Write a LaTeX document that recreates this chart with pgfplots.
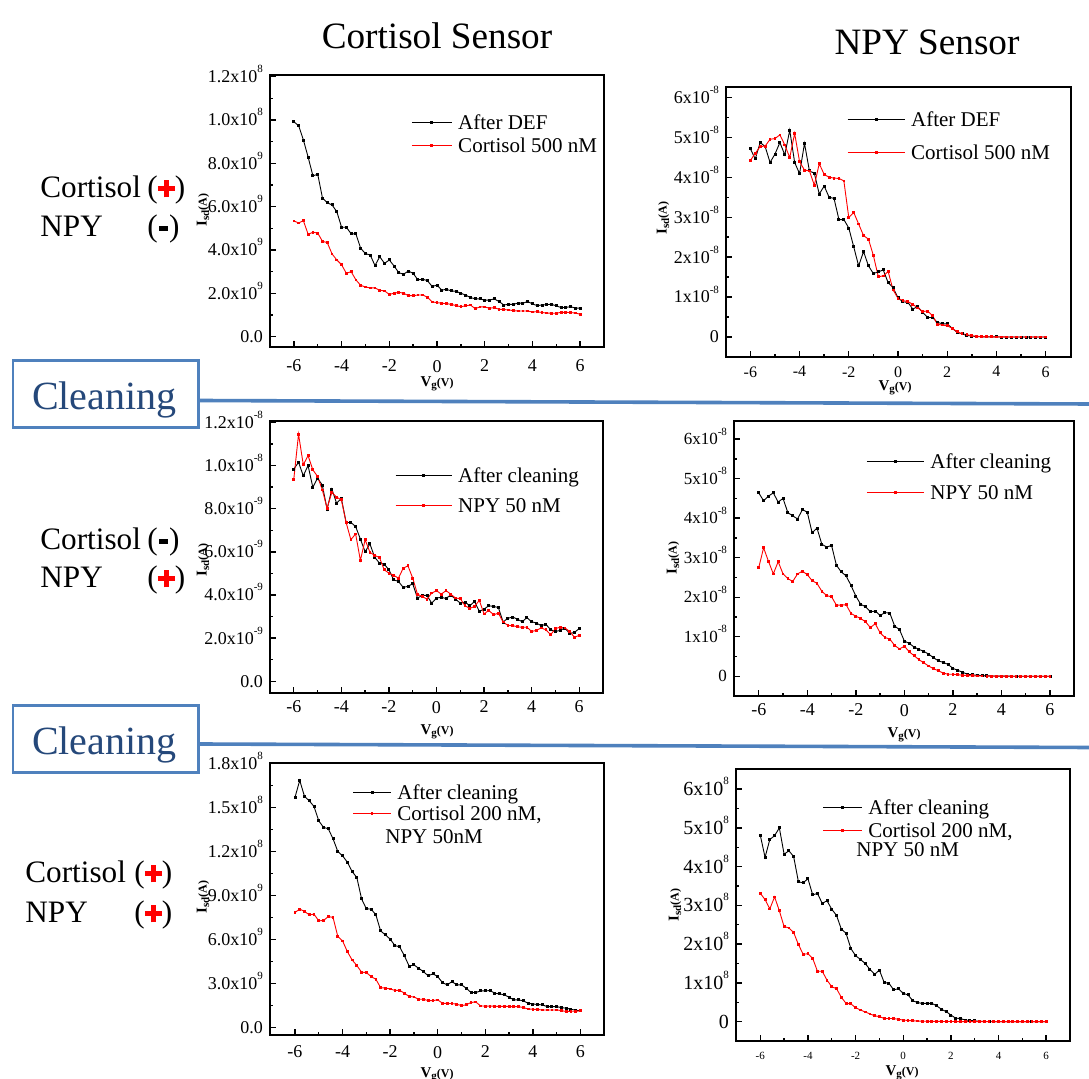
\documentclass[border=0pt]{standalone}
\usepackage{fontspec}
\setmainfont{Liberation Serif}
\usepackage{pgfplots}
\usepackage{pgfplotstable}
\pgfplotsset{compat=1.18}
\definecolor{cleanblue}{RGB}{79,129,189}
\definecolor{cleantext}{RGB}{37,72,122}

\newcommand{\sq}[1]{\smash{\raisebox{0.55em}{\fontsize{5.5}{6}\selectfont #1}}}
\newcommand{\yt}[2]{#1x10\sq{#2}}
\newcommand{\legfont}{\fontsize{10.5}{12}\selectfont}
\newcommand{\redplus}{\textcolor{red}{\rlap{\raisebox{0.22em}{\rule{0.55em}{0.16em}}}\hspace{0.195em}\rule[0.02em]{0.16em}{0.55em}\hspace{0.195em}}}
\newcommand{\blkminus}{\hspace{0.04em}\rule[0.2em]{0.28em}{0.15em}\hspace{0.04em}}
\newcommand{\ylab}{{\fontsize{7.5}{8}\selectfont\bfseries I\raisebox{-0.35ex}{\fontsize{5.5}{6}\selectfont sd}{\fontsize{6}{6}\selectfont(A)}}}
\newcommand{\xlab}{{\fontsize{7.5}{8}\selectfont\bfseries V\raisebox{-0.35ex}{\fontsize{5.5}{6}\selectfont g}{\fontsize{6}{6}\selectfont(V)}}}

\pgfplotstableread{
x b r
-6 9.92 5.34
-5.8 9.74 5.25
-5.6 9.08 5.35
-5.4 8.28 4.72
-5.2 7.42 4.82
-5.0 7.50 4.78
-4.8 6.40 4.40
-4.6 6.18 4.34
-4.4 6.08 3.82
-4.2 5.77 3.54
-4.0 5.05 3.32
-3.8 5.05 2.92
-3.6 4.75 3.00
-3.4 4.74 2.62
-3.2 4.08 2.37
-3.0 3.83 2.29
-2.8 3.77 2.25
-2.6 3.28 2.25
-2.4 3.69 2.14
-2.2 3.38 2.11
-2.0 3.54 1.95
-1.8 3.26 2.00
-1.6 2.95 2.05
-1.4 2.88 2.00
-1.2 3.03 1.89
-1.0 2.92 1.89
-0.8 2.62 1.92
-0.6 2.65 1.92
-0.4 2.58 1.82
-0.2 2.31 1.60
0.0 2.38 1.57
0.2 2.15 1.54
0.4 2.18 1.52
0.6 2.11 1.49
0.8 2.09 1.43
1.0 2.00 1.38
1.2 1.92 1.42
1.4 1.80 1.46
1.6 1.75 1.29
1.8 1.74 1.37
2.0 1.68 1.37
2.2 1.69 1.31
2.4 1.74 1.34
2.6 1.62 1.26
2.8 1.46 1.25
3.0 1.49 1.23
3.2 1.49 1.20
3.4 1.55 1.18
3.6 1.54 1.18
3.8 1.62 1.18
4.0 1.51 1.14
4.2 1.43 1.15
4.4 1.46 1.11
4.6 1.48 1.09
4.8 1.49 1.08
5.0 1.42 1.08
5.2 1.34 1.12
5.4 1.35 1.12
5.6 1.38 1.11
5.8 1.32 1.09
6.0 1.31 1.03
}\tabA

\pgfplotstableread{
x b r
-6 4.71 4.42
-5.8 4.46 4.60
-5.6 4.87 4.77
-5.4 4.77 4.78
-5.2 4.37 4.95
-5.0 4.58 4.97
-4.8 4.87 5.06
-4.6 4.56 4.81
-4.4 5.18 4.49
-4.2 4.37 5.10
-4.0 4.09 4.39
-3.8 4.85 4.18
-3.6 4.16 4.16
-3.4 4.10 3.80
-3.2 3.58 4.34
-3.0 3.78 4.07
-2.8 3.50 4.00
-2.6 3.47 3.98
-2.4 2.94 3.97
-2.2 2.94 3.91
-2.0 2.73 2.99
-1.8 2.26 3.12
-1.6 1.78 2.83
-1.4 2.14 2.54
-1.2 1.78 2.45
-1.0 1.59 2.04
-0.8 1.63 1.51
-0.6 1.68 1.53
-0.4 1.36 1.64
-0.2 1.24 1.18
0.0 0.98 0.97
0.2 0.88 0.91
0.4 0.87 0.89
0.6 0.70 0.82
0.8 0.76 0.73
1.0 0.62 0.64
1.2 0.49 0.65
1.4 0.49 0.54
1.6 0.37 0.32
1.8 0.33 0.30
2.0 0.33 0.28
2.2 0.22 0.22
2.4 0.12 0.13
2.6 0.08 0.08
2.8 0.04 0.06
3.0 0.025 0.03
3.2 0.01 0.02
3.4 0.006 0.01
3.6 0.004 0.008
3.8 0.003 0.006
4.0 0.002 0.004
4.2 0.001 0.003
4.4 0.001 0.002
4.6 0 0.001
4.8 0 0.001
5.0 0 0
5.2 0 0
5.4 0 0
5.6 0 0
5.8 0 0
6.0 0 0
}\tabB

\pgfplotstableread{
x b r
-6 9.83 9.36
-5.8 10.15 11.45
-5.6 9.52 10.03
-5.4 10.00 10.46
-5.2 8.99 9.80
-5.0 9.41 9.49
-4.8 9.09 8.87
-4.6 7.97 8.02
-4.4 8.90 8.75
-4.2 8.25 8.53
-4.0 8.48 8.41
-3.8 7.36 7.36
-3.6 7.36 6.56
-3.4 7.17 6.83
-3.2 6.59 5.60
-3.0 6.00 6.56
-2.8 6.37 5.98
-2.6 5.75 5.83
-2.4 5.48 5.74
-2.2 5.43 5.17
-2.0 5.17 5.01
-1.8 4.70 4.91
-1.6 4.63 4.78
-1.4 4.35 5.24
-1.2 4.40 5.35
-1.0 4.52 4.78
-0.8 3.86 4.04
-0.6 3.98 3.93
-0.4 3.98 3.81
-0.2 3.62 4.09
0.0 3.86 4.20
0.2 3.89 4.04
0.4 3.84 4.20
0.6 4.00 4.04
0.8 3.81 3.86
1.0 3.62 3.83
1.2 3.67 3.50
1.4 3.50 3.38
1.6 3.70 3.47
1.8 3.24 3.75
2.0 3.35 3.12
2.2 3.50 3.29
2.4 3.47 3.08
2.6 3.42 3.16
2.8 2.75 2.75
3.0 2.92 2.59
3.2 2.98 2.58
3.4 2.88 2.53
3.6 2.76 2.50
3.8 2.95 2.51
4.0 2.76 2.31
4.2 2.70 2.36
4.4 2.58 2.47
4.6 2.64 2.39
4.8 2.39 2.16
5.0 2.31 2.44
5.2 2.36 2.51
5.4 2.47 2.47
5.6 2.21 2.31
5.8 2.27 2.04
6.0 2.44 2.13
}\tabC

\pgfplotstableread{
x b r
-6 4.64 2.75
-5.8 4.44 3.25
-5.6 4.56 2.91
-5.4 4.64 2.59
-5.2 4.41 2.90
-5.0 4.50 2.59
-4.8 4.14 2.47
-4.6 4.06 2.40
-4.4 3.98 2.59
-4.2 4.22 2.66
-4.0 4.15 2.57
-3.8 3.63 2.42
-3.6 3.75 2.35
-3.4 3.34 2.15
-3.2 3.27 2.04
-3.0 3.31 2.01
-2.8 2.81 1.80
-2.6 2.64 1.80
-2.4 2.54 1.81
-2.2 2.30 1.59
-2.0 2.03 1.52
-1.8 1.82 1.46
-1.6 1.76 1.38
-1.4 1.63 1.23
-1.2 1.65 1.33
-1.0 1.54 1.10
-0.8 1.61 0.98
-0.6 1.60 0.94
-0.4 1.27 0.78
-0.2 1.18 0.69
0.0 0.89 0.76
0.2 0.83 0.62
0.4 0.74 0.52
0.6 0.68 0.42
0.8 0.63 0.34
1.0 0.56 0.26
1.2 0.47 0.19
1.4 0.39 0.14
1.6 0.35 0.08
1.8 0.30 0.05
2.0 0.20 0.05
2.2 0.15 0.04
2.4 0.10 0.025
2.6 0.05 0.017
2.8 0.035 0.01
3.0 0.025 0.008
3.2 0.017 0.006
3.4 0.01 0.004
3.6 0.006 0.003
3.8 0.004 0.002
4.0 0.003 0.001
4.2 0.002 0.001
4.4 0.001 0
4.6 0 0
4.8 0 0
5.0 0 0
5.2 0 0
5.4 0 0
5.6 0 0
5.8 0 0
6.0 0 0
}\tabD

\pgfplotstableread{
x b r
-6 15.70 7.84
-5.8 16.86 8.07
-5.6 15.77 7.91
-5.4 15.47 7.68
-5.2 15.08 7.72
-5.0 14.10 7.27
-4.8 13.65 7.29
-4.6 13.56 7.56
-4.4 12.87 7.50
-4.2 12.01 6.20
-4.0 11.71 5.90
-3.8 11.28 5.17
-3.6 10.64 4.60
-3.4 10.23 4.22
-3.2 8.77 3.76
-3.0 8.09 3.74
-2.8 8.07 3.46
-2.6 7.68 3.28
-2.4 6.58 2.71
-2.2 6.31 2.67
-2.0 6.02 2.62
-1.8 5.58 2.51
-1.6 5.49 2.53
-1.4 4.88 2.32
-1.2 4.17 2.10
-1.0 4.26 2.07
-0.8 4.03 1.91
-0.6 3.80 1.91
-0.4 3.51 1.82
-0.2 3.65 1.82
0.0 3.46 1.87
0.2 3.05 1.64
0.4 2.89 1.62
0.6 3.12 1.62
0.8 2.89 1.57
1.0 2.89 1.48
1.2 2.67 1.53
1.4 2.37 1.69
1.6 2.37 1.73
1.8 2.48 1.46
2.0 2.48 1.44
2.2 2.51 1.44
2.4 2.32 1.44
2.6 2.28 1.41
2.8 2.21 1.44
3.0 2.05 1.41
3.2 1.87 1.41
3.4 1.87 1.41
3.6 1.80 1.34
3.8 1.64 1.25
4.0 1.59 1.23
4.2 1.55 1.21
4.4 1.53 1.18
4.6 1.41 1.18
4.8 1.41 1.18
5.0 1.41 1.18
5.2 1.34 1.14
5.4 1.30 1.07
5.6 1.23 1.09
5.8 1.16 1.09
6.0 1.12 1.12
}\tabE

\pgfplotstableread{
x b r
-6 4.81 3.31
-5.8 4.24 3.15
-5.6 4.70 2.91
-5.4 4.80 3.22
-5.2 5.00 2.86
-5.0 4.32 2.45
-4.8 4.41 2.42
-4.6 4.26 2.30
-4.4 3.61 1.99
-4.2 3.58 1.74
-4.0 3.69 1.75
-3.8 3.27 1.63
-3.6 3.31 1.30
-3.4 3.05 1.30
-3.2 3.12 1.07
-3.0 2.90 0.90
-2.8 2.74 0.85
-2.6 2.39 0.63
-2.4 2.28 0.47
-2.2 1.89 0.46
-2.0 1.70 0.36
-1.8 1.61 0.30
-1.6 1.50 0.25
-1.4 1.35 0.20
-1.2 1.22 0.15
-1.0 1.33 0.13
-0.8 1.01 0.08
-0.6 0.99 0.08
-0.4 0.82 0.08
-0.2 0.85 0.06
0.0 0.73 0.04
0.2 0.69 0.03
0.4 0.54 0.02
0.6 0.49 0.015
0.8 0.47 0.01
1.0 0.47 0.008
1.2 0.47 0.006
1.4 0.41 0.005
1.6 0.32 0.004
1.8 0.26 0.003
2.0 0.17 0.002
2.2 0.09 0.002
2.4 0.08 0.001
2.6 0.04 0.001
2.8 0.03 0.001
3.0 0.02 0
3.2 0.01 0
3.4 0.005 0
3.6 0.003 0
3.8 0.002 0
4.0 0.001 0
4.2 0 0
4.4 0 0
4.6 0 0
4.8 0 0
5.0 0 0
5.2 0 0
5.4 0 0
5.6 0 0
5.8 0 0
6.0 0 0
}\tabF

\pgfplotsset{
  panel/.style={
    scale only axis, anchor=north west,
    axis line style={line width=0.9pt},
    tick style={black, line width=0.7pt},
    tick align=inside, xtick pos=left, ytick pos=left,
    major tick length=3pt, minor tick length=1.6pt,
    minor x tick num=1, minor y tick num=1,
    xtick={-6,-4,-2,0,2,4,6}, xticklabels={-6,-4,-2,0,2,4,6},
    xmin=-7, xmax=7,
    tick label style={font=\fontsize{9}{10}\selectfont},
    legend cell align=left,
    legend style={draw=none, fill=none, anchor=north west, font=\legfont,
      nodes={inner sep=0pt, text height=8.5pt, text depth=1.5pt},
      /tikz/every odd column/.append style={column sep=3pt}},
  },
  limg/.style={legend image code/.code={\draw[mark repeat=2,mark phase=2,##1] plot coordinates {(0pt,0pt) (#1/2,0pt) (#1,0pt)};}},
  blk/.style={black, line width=0.45pt, mark=square*, mark size=0.5pt},
  rd/.style={red, line width=0.45pt, mark=square*, mark size=0.45pt},
}

\begin{document}
\begin{tikzpicture}
\useasboundingbox (0,0) rectangle (544.5pt,-539.5pt);
\fill[white] (0,0) rectangle (544.5pt,-539.5pt);

% Panel 1
\begin{axis}[panel, at={(135pt,-37.5pt)}, width=167pt, height=136pt,
  ymin=-0.48, ymax=12.08, ytick={0,2,4,6,8,10,12},
  yticklabels={0.0,\yt{2.0}{9},\yt{4.0}{9},\yt{6.0}{9},\yt{8.0}{9},\yt{1.0}{8},\yt{1.2}{8}},
  xticklabel style={yshift=-3pt},
  limg=20pt,
  legend style={at={(0.404,0.879)}, row sep=1.5pt}]
\addplot[blk] table[x=x,y=b]{\tabA};
\addlegendentry{After DEF}
\addplot[rd] table[x=x,y=r]{\tabA};
\addlegendentry{Cortisol 500 nM}
\end{axis}

% Panel 2
\begin{axis}[panel, at={(363pt,-43.5pt)}, width=172.5pt, height=135pt,
  xmin=-6.99, xmax=7.03,
  ymin=-0.5, ymax=6.26, ytick={0,1,2,3,4,5,6},
  yticklabels={0,\yt{1}{-8},\yt{2}{-8},\yt{3}{-8},\yt{4}{-8},\yt{5}{-8},\yt{6}{-8}},
  xticklabel style={font=\fontsize{8}{9}\selectfont, yshift=-1.2pt},
  limg=28.5pt,
  legend style={at={(0.333,0.933)}, row sep=6.5pt}]
\addplot[blk] table[x=x,y=b]{\tabB};
\addlegendentry{After DEF}
\addplot[rd] table[x=x,y=r]{\tabB};
\addlegendentry{Cortisol 500 nM}
\end{axis}

% Panel 3
\begin{axis}[panel, at={(135pt,-210.5pt)}, width=166.5pt, height=136pt,
  ymin=-0.54, ymax=12.06, ytick={0,2,4,6,8,10,12},
  yticklabels={0.0,\yt{2.0}{-9},\yt{4.0}{-9},\yt{6.0}{-9},\yt{8.0}{-9},\yt{1.0}{-8},\yt{1.2}{-8}},
  xticklabel style={yshift=-0.5pt},
  limg=28pt,
  legend style={at={(0.357,0.853)}, row sep=5pt}]
\addplot[blk] table[x=x,y=b]{\tabC};
\addlegendentry{After cleaning}
\addplot[rd] table[x=x,y=r]{\tabC};
\addlegendentry{NPY 50 nM}
\end{axis}

% Panel 4
\begin{axis}[panel, at={(367pt,-210.5pt)}, width=170pt, height=137.5pt,
  xmin=-7.02, xmax=6.99,
  ymin=-0.5, ymax=6.46, ytick={0,1,2,3,4,5,6},
  yticklabels={0,\yt{1}{-8},\yt{2}{-8},\yt{3}{-8},\yt{4}{-8},\yt{5}{-8},\yt{6}{-8}},
  yticklabel style={font=\fontsize{8.5}{9}\selectfont},
  xticklabel style={yshift=-0.5pt},
  limg=28.5pt,
  legend style={at={(0.371,0.905)}, row sep=5.5pt}]
\addplot[blk] table[x=x,y=b]{\tabD};
\addlegendentry{After cleaning}
\addplot[rd] table[x=x,y=r]{\tabD};
\addlegendentry{NPY 50 nM}
\end{axis}

% Panel 5
\begin{axis}[panel, at={(135pt,-381.5pt)}, width=167pt, height=136pt,
  xmin=-7.05, xmax=6.99,
  ymin=-0.53, ymax=18.05, ytick={0,3,6,9,12,15,18},
  yticklabels={0.0,\yt{3.0}{9},\yt{6.0}{9},\yt{9.0}{9},\yt{1.2}{8},\yt{1.5}{8},\yt{1.8}{8}},
  xticklabel style={yshift=-2pt},
  limg=19pt,
  legend style={at={(0.228,0.945)}, row sep=0.5pt}]
\addplot[blk] table[x=x,y=b]{\tabE};
\addlegendentry{After cleaning}
\addplot[rd] table[x=x,y=r]{\tabE};
\addlegendentry{Cortisol 200 nM,}
\end{axis}

% Panel 6
\begin{axis}[panel, at={(368pt,-384.5pt)}, width=167pt, height=136pt,
  xmin=-7.02, xmax=7.0,
  ymin=-0.5, ymax=6.52, ytick={0,1,2,3,4,5,6},
  yticklabels={0,\yt{1}{8},\yt{2}{8},\yt{3}{8},\yt{4}{8},\yt{5}{8},\yt{6}{8}},
  yticklabel style={font=\fontsize{10}{11}\selectfont},
  xticklabel style={font=\fontsize{5.5}{6}\selectfont, yshift=-2.3pt},
  limg=19.5pt,
  legend style={at={(0.240,0.912)}, row sep=1.5pt}]
\addplot[blk] table[x=x,y=b]{\tabF};
\addlegendentry{After cleaning}
\addplot[rd] table[x=x,y=r]{\tabF};
\addlegendentry{Cortisol 200 nM,}
\end{axis}

\begin{scope}[x=0.5pt,y=-0.5pt]
% titles
\node[anchor=base, font=\fontsize{18.6}{20}\selectfont] at (437,49) {Cortisol Sensor};
\node[anchor=base, font=\fontsize{18.6}{20}\selectfont] at (927,55) {NPY Sensor};
% extra legend lines
\node[anchor=base west, inner sep=0pt, font=\legfont] at (385,844) {NPY 50nM};
\node[anchor=base west, inner sep=0pt, font=\legfont] at (856,857) {NPY 50 nM};
% axis labels
\foreach \xx/\yy in {203/210, 663/218, 203/560, 673/558, 203/897, 675/905}
  \node[rotate=90, inner sep=0pt] at (\xx,\yy) {\ylab};
\foreach \xx/\yy in {437/384, 895/388, 437/732, 904/735, 437/1075, 902/1073}
  \node[inner sep=0pt] at (\xx,\yy) {\xlab};
% left labels
\begin{scope}[every node/.style={anchor=base west, inner sep=0pt, font=\fontsize{15.6}{17}\selectfont}]
\node at (40,198) {Cortisol};
\node at (147,198) {(\redplus)};
\node at (40,237) {NPY};
\node at (147,237) {(\blkminus)};
\node at (40,550) {Cortisol};
\node at (147,550) {(\blkminus)};
\node at (40,588) {NPY};
\node at (147,588) {(\redplus)};
\node at (25,883) {Cortisol};
\node at (134,883) {(\redplus)};
\node at (25,923) {NPY};
\node at (134,923) {(\redplus)};
\end{scope}
% cleaning boxes
\draw[cleanblue, line width=1.8pt] (198.7,400.5) -- (1089,404);
\draw[cleanblue, line width=1.8pt] (198.7,744) -- (1089,747.5);
\draw[cleanblue, line width=1.35pt, fill=white] (13,360.3) rectangle (198.7,427.7);
\draw[cleanblue, line width=1.35pt, fill=white] (13,705.3) rectangle (198.7,772.7);
\node[anchor=base west, inner sep=0pt, text=cleantext, font=\fontsize{20}{22}\selectfont] at (31.7,409.3) {Cleaning};
\node[anchor=base west, inner sep=0pt, text=cleantext, font=\fontsize{20}{22}\selectfont] at (31.7,754.3) {Cleaning};
\end{scope}
\end{tikzpicture}
\end{document}
